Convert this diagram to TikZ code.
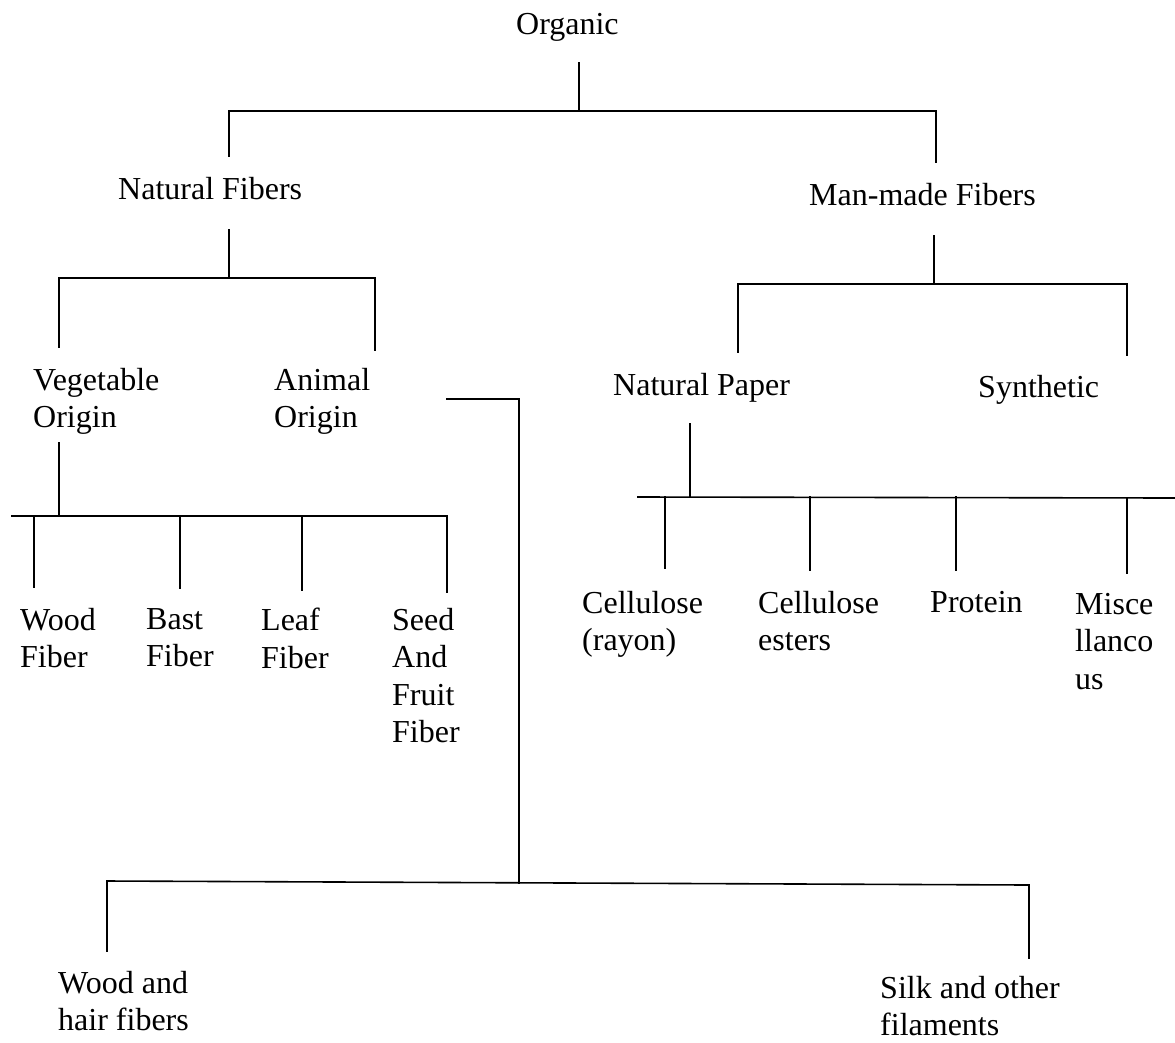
\documentclass[tikz,border=0pt]{standalone}
\usepackage{fontspec}
\setmainfont{Liberation Serif}
\begin{document}
\begin{tikzpicture}[x=1pt,y=-1pt,
  lbl/.style={anchor=north west, inner sep=0pt, align=left, font=\fontsize{32}{37.5}\selectfont},
  conn/.style={draw=black, line width=1.6pt, line cap=rect}]
\useasboundingbox[fill=white] (0,0) rectangle (1175,1042);

% ---- labels ----
\node[lbl] (organic) at (516,13) {Organic};
\node[lbl] (natural) at (118,177) {Natural Fibers};
\node[lbl] (manmade) at (809,183) {Man-made Fibers};
\node[lbl] (veg) at (33,368) {Vegetable\\Origin};
\node[lbl] (animal) at (274,368) {Animal\\Origin};
\node[lbl] (paper) at (613,373) {Natural Paper};
\node[lbl] (synth) at (978,375) {Synthetic};
\node[lbl] (wood) at (20,608) {Wood\\Fiber};
\node[lbl] (bast) at (146,608) {Bast\\Fiber};
\node[lbl] (leaf) at (261,608) {Leaf\\Fiber};
\node[lbl] (seed) at (392,608) {Seed\\And\\Fruit\\Fiber};
\node[lbl] (cellr) at (582,591) {Cellulose\\(rayon)};
\node[lbl] (celle) at (758,591) {Cellulose\\esters};
\node[lbl] (protein) at (930,591) {Protein};
\node[lbl] (misc) at (1075,593) {Misce\\llanco\\us};
\node[lbl] (woodhair) at (58,971) {Wood and\\hair fibers};
\node[lbl] (silk) at (880,976) {Silk and other\\filaments};

% ---- junction coordinates ----
\coordinate (oTop) at (579,63);
\coordinate (oBus) at (579,111);
\coordinate (oL) at (229,111);
\coordinate (oR) at (936,111);
\coordinate (oLd) at (229,156);
\coordinate (oRd) at (936,162);

\coordinate (nTop) at (229,230);
\coordinate (nBus) at (229,278);
\coordinate (nL) at (59,278);
\coordinate (nR) at (375,278);
\coordinate (nLd) at (59,347);
\coordinate (nRd) at (375,350);

\coordinate (mTop) at (934,236);
\coordinate (mBus) at (934,284);
\coordinate (mL) at (738,284);
\coordinate (mR) at (1127,284);
\coordinate (mLd) at (738,352);
\coordinate (mRd) at (1127,355);

\coordinate (aStart) at (447,399);
\coordinate (aCorner) at (519,399);
\coordinate (aBus) at (519,883);
\coordinate (aL) at (107,881);
\coordinate (aR) at (1029,885);
\coordinate (aLd) at (107,951);
\coordinate (aRd) at (1029,958);

\coordinate (vTop) at (59,443);
\coordinate (vBus) at (59,516);
\coordinate (vL) at (12,516);
\coordinate (vR) at (447,516);
\coordinate (v1) at (34,516);  \coordinate (v1d) at (34,587);
\coordinate (v2) at (180,516); \coordinate (v2d) at (180,588);
\coordinate (v3) at (302,516); \coordinate (v3d) at (302,590);
\coordinate (v4d) at (447,592);

\coordinate (pTop) at (690,424);
\coordinate (pBus) at (690,497);
\coordinate (pL) at (638,497);
\coordinate (pR) at (1175,498);
\coordinate (p1) at (665,497);  \coordinate (p1d) at (665,568);
\coordinate (p2) at (810,497);  \coordinate (p2d) at (810,570);
\coordinate (p3) at (956,497);  \coordinate (p3d) at (956,570);
\coordinate (p4) at (1127,498); \coordinate (p4d) at (1127,573);

% ---- connectors ----
\draw[conn] (oTop) -- (oBus);
\draw[conn] (oLd) -- (oL) -- (oR) -- (oRd);

\draw[conn] (nTop) -- (nBus);
\draw[conn] (nLd) -- (nL) -- (nR) -- (nRd);

\draw[conn] (mTop) -- (mBus);
\draw[conn] (mLd) -- (mL) -- (mR) -- (mRd);

\draw[conn] (aStart) -- (aCorner) -- (aBus);
\draw[conn] (aLd) -- (aL) -- (aR) -- (aRd);

\draw[conn] (vTop) -- (vBus);
\draw[conn] (vL) -- (vR) -- (v4d);
\draw[conn] (v1) -- (v1d);
\draw[conn] (v2) -- (v2d);
\draw[conn] (v3) -- (v3d);

\draw[conn] (pTop) -- (pBus);
\draw[conn] (pL) -- (pR);
\draw[conn] (p1) -- (p1d);
\draw[conn] (p2) -- (p2d);
\draw[conn] (p3) -- (p3d);
\draw[conn] (p4) -- (p4d);
\end{tikzpicture}
\end{document}
